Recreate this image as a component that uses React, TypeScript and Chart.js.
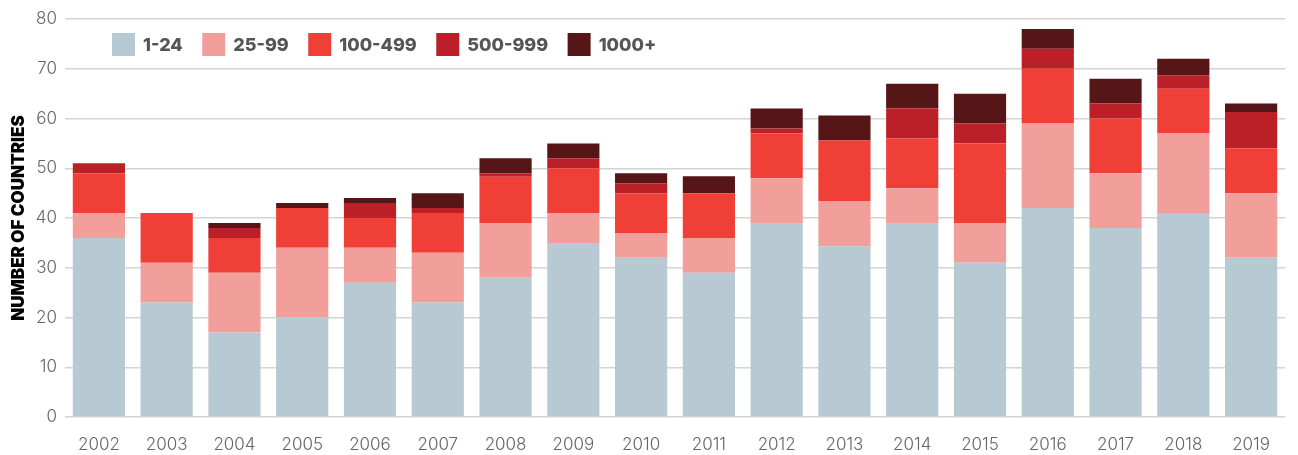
import { useEffect, useRef } from "react";
import { Chart, registerables } from "chart.js";

Chart.register(...registerables);

const years = ["2002", "2003", "2004", "2005", "2006", "2007", "2008", "2009", "2010", "2011", "2012", "2013", "2014", "2015", "2016", "2017", "2018", "2019"];
const s1to24 = [36, 23, 17, 20, 27, 23, 28, 35, 32, 29, 39, 34.3, 39, 31, 42, 38, 41, 32];
const s25to99 = [5, 8, 12, 14, 7, 10, 11, 6, 5, 7, 9, 9, 7, 8, 17, 11, 16, 13];
const s100to499 = [8, 10, 7, 8, 6, 8, 9.3, 9, 8, 9, 9, 12.3, 10, 16, 11, 11, 9, 9];
const s500to999 = [2, 0, 2, 0, 3, 1, 0.7, 2, 2, 0, 1, 0, 6, 4, 4, 3, 2.7, 7.3];
const s1000plus = [0, 0, 1, 1, 1, 3, 3, 3, 2, 3.4, 4, 5, 5, 6, 4, 5, 3.3, 1.7];

const seriesLabels = ["1-24", "25-99", "100-499", "500-999", "1000+"];
const seriesColors = ["#b7c9d2", "#f29f9c", "#ef3f36", "#bb1f28", "#561517"];
const yTicks = [0, 10, 20, 30, 40, 50, 60, 70, 80];

const FONT = "Inter, 'Noto Sans', sans-serif";

const legendPlugin = {
  id: "customLegend",
  afterDraw(chart: any) {
    const ctx = chart.ctx;
    ctx.save();
    ctx.font = `800 18px ${FONT}`;
    ctx.textBaseline = "middle";
    ctx.textAlign = "left";
    let x = 112;
    const y = 33;
    const box = 23;
    chart.data.datasets.forEach((ds: any) => {
      ctx.fillStyle = ds.backgroundColor;
      ctx.fillRect(x, y, box, box);
      ctx.fillStyle = "#555555";
      const tx = x + box + 8;
      ctx.fillText(ds.label, tx, y + box / 2 + 1);
      x = tx + ctx.measureText(ds.label).width + 19.5;
    });
    ctx.restore();
  },
};

export default function App() {
  const ref = useRef<HTMLCanvasElement | null>(null);

  useEffect(() => {
    if (!ref.current) return;
    const series = [s1to24, s25to99, s100to499, s500to999, s1000plus];
    const chart = new Chart(ref.current, {
      type: "bar",
      data: {
        labels: years,
        datasets: series.map((d, i) => ({
          label: seriesLabels[i],
          data: d,
          backgroundColor: seriesColors[i],
          borderWidth: 0,
          barPercentage: 0.77,
          categoryPercentage: 1,
        })),
      },
      options: {
        responsive: false,
        animation: false,
        layout: { padding: { top: 19, right: 13, left: 0, bottom: 0 } },
        plugins: {
          legend: { display: false },
          tooltip: { enabled: false },
        },
        scales: {
          x: {
            stacked: true,
            grid: { display: false, drawTicks: false },
            border: { display: false },
            ticks: {
              color: "#666666",
              font: { family: FONT, size: 17, weight: "300" },
              padding: 18,
            },
            afterFit: (s: any) => {
              s.height = 38;
            },
          },
          y: {
            stacked: true,
            min: 0,
            max: 80,
            afterBuildTicks: (s: any) => {
              s.ticks = yTicks.map((v) => ({ value: v }));
            },
            grid: { color: "#d4d4d4", lineWidth: 1.5, drawTicks: false },
            border: { display: false },
            ticks: {
              color: "#666666",
              font: { family: FONT, size: 17, weight: "300" },
              padding: 8,
            },
            title: {
              display: true,
              text: "NUMBER OF COUNTRIES",
              color: "#000000",
              font: { family: FONT, size: 17, weight: "900" },
              padding: { top: 9, bottom: 0 },
            },
            afterFit: (s: any) => {
              s.width = 65;
            },
          },
        },
      },
      plugins: [legendPlugin],
    });
    return () => chart.destroy();
  }, []);

  return (
    <div style={{ position: "fixed", left: 0, top: 0, width: 1298, height: 455, background: "#ffffff" }}>
      <canvas ref={ref} width={1298} height={455} style={{ display: "block" }} />
    </div>
  );
}
